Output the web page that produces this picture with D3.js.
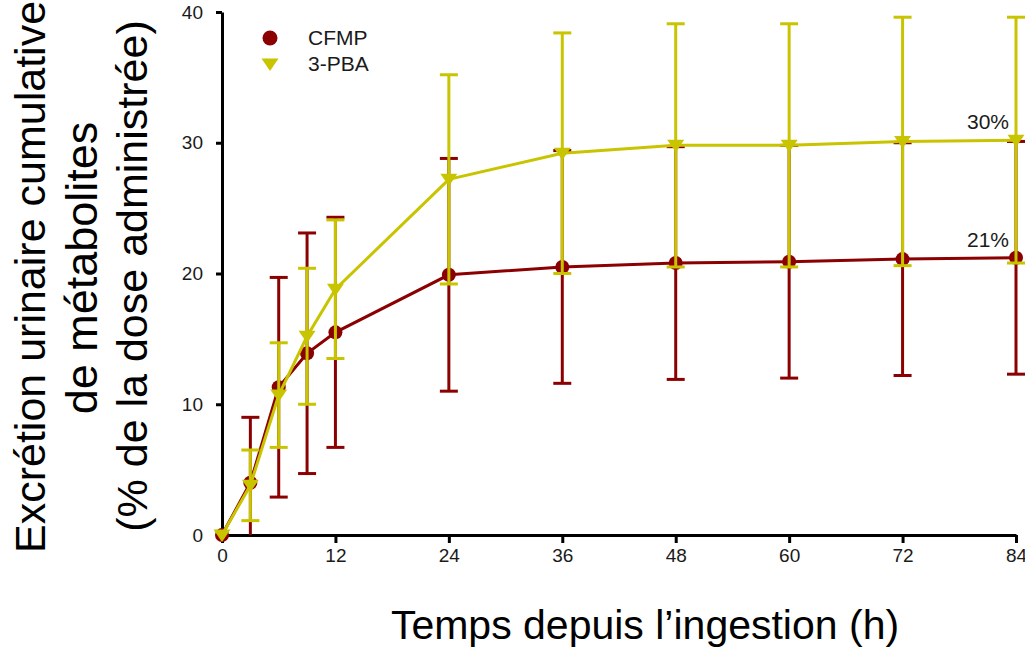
<!DOCTYPE html>
<html>
<head>
<meta charset="utf-8">
<script src="https://cdn.jsdelivr.net/npm/d3@7"></script>
<style>
  body { margin: 0; background: #fff; }
  text { font-family: "Liberation Sans", Arial, sans-serif; }
</style>
</head>
<body>
<div id="container"></div>
<script>
/* DATA */
const times = [0, 3, 6, 9, 12, 24, 36, 48, 60, 72, 84];
const cfmpMean = [0, 4.0, 11.3, 13.9, 15.5, 19.9, 20.5, 20.8, 20.9, 21.1, 21.2];
const cfmpSD   = [0, 5.0, 8.4, 9.2, 8.8, 8.9, 8.9, 8.9, 8.9, 8.9, 8.9];
const pbaMean  = [0, 3.8, 10.7, 15.2, 18.8, 27.2, 29.2, 29.8, 29.8, 30.1, 30.2];
const pbaSD    = [0, 2.7, 4.0, 5.2, 5.3, 8.0, 9.2, 9.3, 9.3, 9.5, 9.4];
const xTicks = [0, 12, 24, 36, 48, 60, 72, 84];
const yTicks = [0, 10, 20, 30, 40];
const seriesNames = ["CFMP", "3-PBA"];
const endLabels = ["21%", "30%"];

/* CONSTANTS */
const width = 1025;
const height = 648;
const red = "#8b0000";
const yellow = "#c8c400";
const ink = "#1a1a1a";

const series = [
  { name: seriesNames[0], mean: cfmpMean, sd: cfmpSD, color: red, shape: "circle", label: endLabels[0] },
  { name: seriesNames[1], mean: pbaMean, sd: pbaSD, color: yellow, shape: "triangle", label: endLabels[1] }
];

const xScale = d3.scaleLinear().domain([0, 84]).range([222, 1016]);
const yScale = d3.scaleLinear().domain([0, 40]).range([535, 12]);

const svg = d3.select("#container")
  .append("svg")
  .attr("width", width)
  .attr("height", height);

// axes
const xAxis = d3.axisBottom(xScale).tickValues(xTicks).tickSize(8).tickSizeOuter(0).tickPadding(6);
const yAxis = d3.axisLeft(yScale).tickValues(yTicks).tickSize(6).tickSizeOuter(0).tickPadding(13);

const xAxisGroup = svg.append("g")
  .attr("transform", `translate(0, ${yScale(0)})`)
  .call(xAxis);
const yAxisGroup = svg.append("g")
  .attr("transform", `translate(${xScale(0)}, 0)`)
  .call(yAxis);

[xAxisGroup, yAxisGroup].forEach(g => {
  g.select(".domain").attr("stroke", "#000").attr("stroke-width", 3);
  g.selectAll(".tick line").attr("stroke", "#000").attr("stroke-width", 3);
  g.selectAll(".tick text")
    .attr("fill", ink)
    .style("font-size", "19px")
    .style("font-family", "Liberation Sans, Arial, sans-serif");
});

// triangle pointing down
function triangle(cx, cy) {
  const p = d3.path();
  p.moveTo(cx - 8.5, cy - 5.5);
  p.lineTo(cx + 8.5, cy - 5.5);
  p.lineTo(cx, cy + 7);
  p.closePath();
  return p.toString();
}

const line = d3.line()
  .x(d => xScale(d.t))
  .y(d => yScale(d.m));

series.forEach(s => {
  const pts = times.map((t, i) => ({ t: t, m: s.mean[i], sd: s.sd[i] }));
  const g = svg.append("g");

  // error bars
  const bars = pts.filter(d => d.sd > 0);
  const hi = d => yScale(d.m + d.sd);
  const lo = d => yScale(Math.max(0, d.m - d.sd));

  g.selectAll("line.err")
    .data(bars)
    .join("line")
    .attr("class", "err")
    .attr("x1", d => xScale(d.t))
    .attr("x2", d => xScale(d.t))
    .attr("y1", hi)
    .attr("y2", lo)
    .attr("stroke", s.color)
    .attr("stroke-width", 3);

  g.selectAll("line.capHi")
    .data(bars)
    .join("line")
    .attr("class", "capHi")
    .attr("x1", d => xScale(d.t) - 9)
    .attr("x2", d => xScale(d.t) + 9)
    .attr("y1", hi)
    .attr("y2", hi)
    .attr("stroke", s.color)
    .attr("stroke-width", 3);

  g.selectAll("line.capLo")
    .data(bars.filter(d => d.m - d.sd > 0))
    .join("line")
    .attr("class", "capLo")
    .attr("x1", d => xScale(d.t) - 9)
    .attr("x2", d => xScale(d.t) + 9)
    .attr("y1", lo)
    .attr("y2", lo)
    .attr("stroke", s.color)
    .attr("stroke-width", 3);

  // mean line
  g.append("path")
    .datum(pts)
    .attr("d", line)
    .attr("fill", "none")
    .attr("stroke", s.color)
    .attr("stroke-width", 3);

  // markers
  if (s.shape === "circle") {
    g.selectAll("circle.dot")
      .data(pts)
      .join("circle")
      .attr("class", "dot")
      .attr("cx", d => xScale(d.t))
      .attr("cy", d => yScale(d.m))
      .attr("r", 7)
      .attr("fill", s.color);
  } else {
    g.selectAll("path.dot")
      .data(pts)
      .join("path")
      .attr("class", "dot")
      .attr("d", d => triangle(xScale(d.t), yScale(d.m)))
      .attr("fill", s.color);
  }

  // end label
  const last = pts[pts.length - 1];
  svg.append("text")
    .attr("x", xScale(last.t) - 7)
    .attr("y", yScale(last.m) - 11)
    .attr("text-anchor", "end")
    .attr("fill", ink)
    .style("font-size", "21px")
    .text(s.label);
});

// legend
const legend = svg.append("g");
series.forEach((s, i) => {
  const ly = 38 + i * 26;
  if (s.shape === "circle") {
    legend.append("circle").attr("cx", 270).attr("cy", ly).attr("r", 7.5).attr("fill", s.color);
  } else {
    legend.append("path").attr("d", triangle(270, ly)).attr("fill", s.color);
  }
  legend.append("text")
    .attr("x", 308)
    .attr("y", ly + 7)
    .attr("fill", ink)
    .style("font-size", "21px")
    .text(s.name);
});

// axis titles
svg.append("text")
  .attr("x", 645)
  .attr("y", 639)
  .attr("text-anchor", "middle")
  .attr("fill", "#000")
  .style("font-size", "41px")
  .text("Temps depuis l\u2019ingestion (h)");

const yTitle = [
  { text: "Excrétion urinaire cumulative", base: 45, mid: 277, size: 43 },
  { text: "de métabolites", base: 97, mid: 268, size: 45 },
  { text: "(% de la dose administrée)", base: 147, mid: 276, size: 43 }
];
svg.selectAll("text.ytitle")
  .data(yTitle)
  .join("text")
  .attr("class", "ytitle")
  .attr("transform", d => `translate(${d.base}, ${d.mid}) rotate(-90)`)
  .attr("text-anchor", "middle")
  .attr("fill", "#000")
  .style("font-size", d => d.size + "px")
  .text(d => d.text);
</script>
</body>
</html>
